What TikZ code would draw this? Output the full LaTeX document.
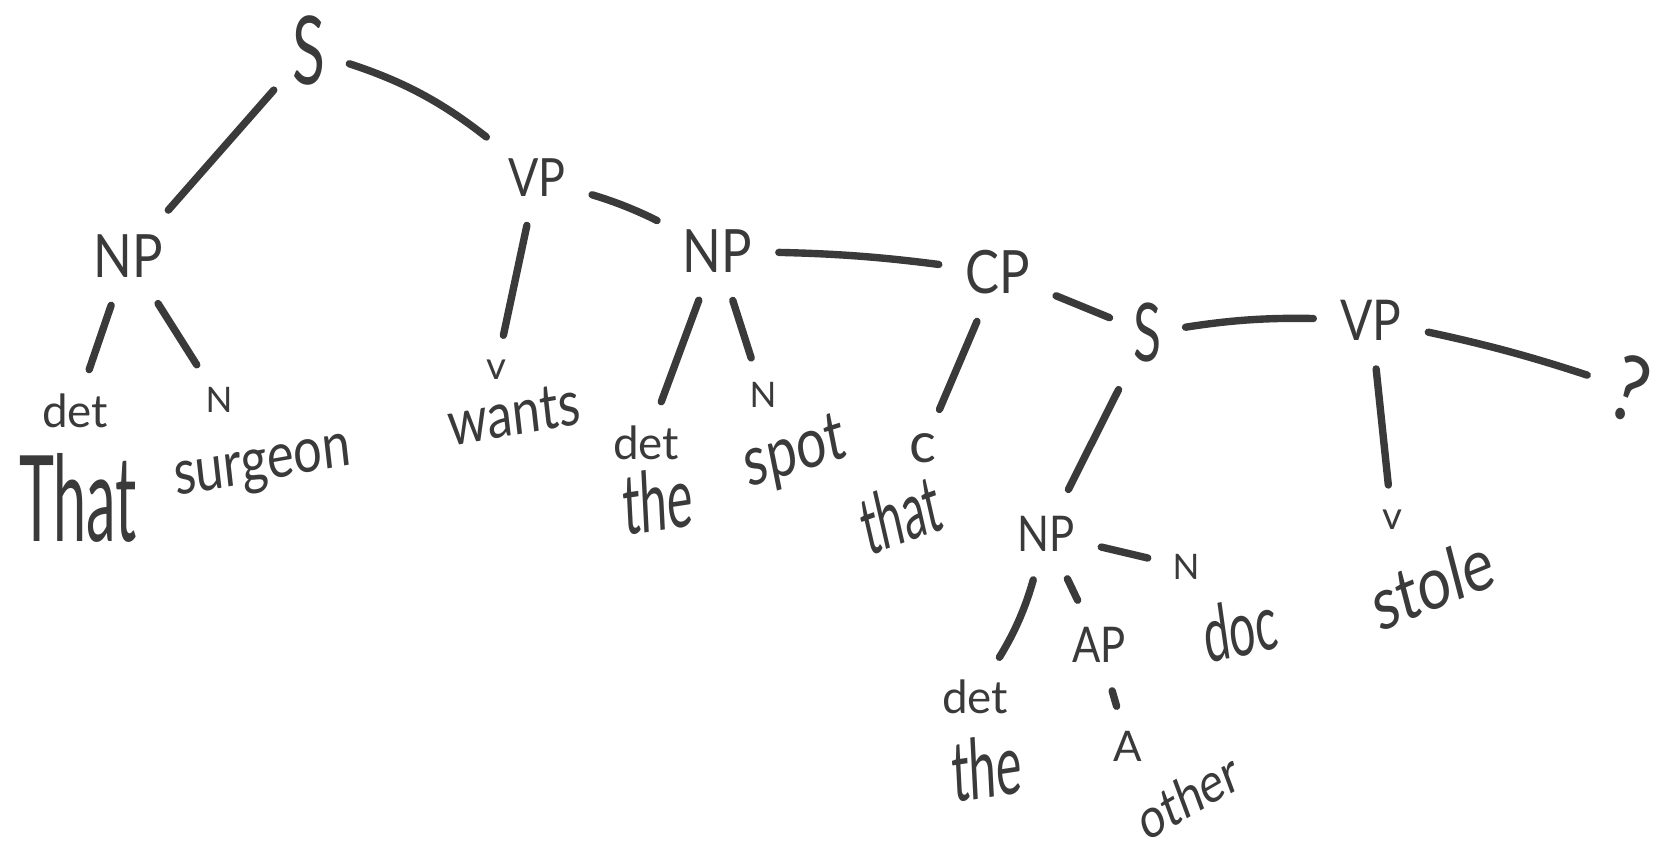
\documentclass[tikz,border=0pt]{standalone}
\usepackage{fontspec}
\setmainfont{Lato}
\definecolor{ink}{HTML}{3A3A3A}
\tikzset{
  cat/.style={text=ink, font=\fontsize{17}{17}\selectfont, inner sep=3pt, xscale=0.85},
  tag/.style={text=ink, font=\fontsize{13}{13}\selectfont, inner sep=2pt},
  word/.style={text=ink, font=\fontsize{20}{20}\selectfont, xscale=0.8, inner sep=2pt},
  branch/.style={draw=ink, line width=2.1pt, line cap=round, shorten <=5pt, shorten >=5pt}
}
\begin{document}
\begin{tikzpicture}[x=0.01cm,y=-0.01cm]
    \useasboundingbox (0,0) rectangle (1673,853);

    % Categorie
    \node[cat, font=\fontsize{27}{27}\selectfont, xscale=0.75] (s) at (309,50) {S};
    \node[cat] (np) at (128,256) {NP};
    \node[cat, font=\fontsize{15}{15}\selectfont] (vp) at (537,178) {VP};
    \node[cat] (npb) at (717,251) {NP};
    \node[cat] (cp) at (998,272) {CP};
    \node[cat, font=\fontsize{23}{23}\selectfont, xscale=0.75] (sb) at (1147,333) {S};
    \node[cat, font=\fontsize{16}{16}\selectfont] (vpb) at (1371,320) {VP};
    \node[cat, font=\fontsize{26}{26}\selectfont, rotate=-20] (qm) at (1630,389) {?};
    \node[cat, font=\fontsize{14}{14}\selectfont] (npc) at (1046,534) {NP};
    \node[cat, font=\fontsize{14}{14}\selectfont] (ap) at (1099,645) {AP};

    % Parti del discorso
    \node[tag] (det) at (75,411) {det};
    \node[tag, font=\fontsize{10}{10}\selectfont] (n) at (219,400) {N};
    \node[tag, font=\fontsize{11}{11}\selectfont] (v) at (496,370) {v};
    \node[tag] (detb) at (646,443) {det};
    \node[tag, font=\fontsize{10}{10}\selectfont] (nb) at (763,395) {N};
    \node[tag, font=\fontsize{16}{16}\selectfont] (c) at (923,448) {c};
    \node[tag, font=\fontsize{11}{11}\selectfont] (vb) at (1392,520) {v};
    \node[tag] (detc) at (975,697) {det};
    \node[tag, font=\fontsize{12}{12}\selectfont] (a) at (1128,746) {A};
    \node[tag, font=\fontsize{10}{10}\selectfont] (nc) at (1186,567) {N};

    % Parole
    \node[word, font=\fontsize{34}{34}\selectfont, xscale=0.62] (that) at (78,498) {That};
    \node[word, rotate=8, font=\fontsize{18}{18}\selectfont] (surgeon) at (263,470) {surgeon};
    \node[word, rotate=8, font=\fontsize{18}{18}\selectfont] (wants) at (514,414) {wants};
    \node[word, font=\fontsize{24}{24}\selectfont, xscale=0.72, rotate=5] (the) at (658,500) {the};
    \node[word, rotate=14, xscale=0.95] (spot) at (795,455) {spot};
    \node[word, rotate=16, font=\fontsize{23}{23}\selectfont, xscale=0.7] (thatb) at (900,514) {that};
    \node[word, rotate=18, font=\fontsize{21}{21}\selectfont] (stole) at (1432,583) {stole};
    \node[word, font=\fontsize{24}{24}\selectfont, xscale=0.72, rotate=5] (thec) at (987,767) {the};
    \node[word, rotate=25, font=\fontsize{16}{16}\selectfont] (other) at (1188,796) {other};
    \node[word, rotate=10, font=\fontsize{22}{22}\selectfont, xscale=0.75] (doc) at (1240,628) {doc};

    % Rami
    \draw[branch] (s) -- (np);
    \draw[branch] (s) to[bend left=10] (vp);
    \draw[branch] (np) -- (det);
    \draw[branch] (np) -- (n);
    \draw[branch] (vp) -- (v);
    \draw[branch] (vp) to[bend left=5] (npb);
    \draw[branch] (npb) -- (detb);
    \draw[branch] (npb) -- (nb);
    \draw[branch] (npb) to[bend left=3] (cp);
    \draw[branch] (cp) -- (c);
    \draw[branch] (cp) -- (sb);
    \draw[branch] (sb) to[bend left=5] (vpb);
    \draw[branch] (sb) -- (npc);
    \draw[branch] (vpb) to[bend left=3] (qm);
    \draw[branch] (vpb) -- (vb);
    \draw[branch] (npc) to[bend left=8] (detc);
    \draw[branch] (npc) -- (ap);
    \draw[branch] (npc) -- (nc);
    \draw[branch] (ap) -- (a);

\end{tikzpicture}
\end{document}
